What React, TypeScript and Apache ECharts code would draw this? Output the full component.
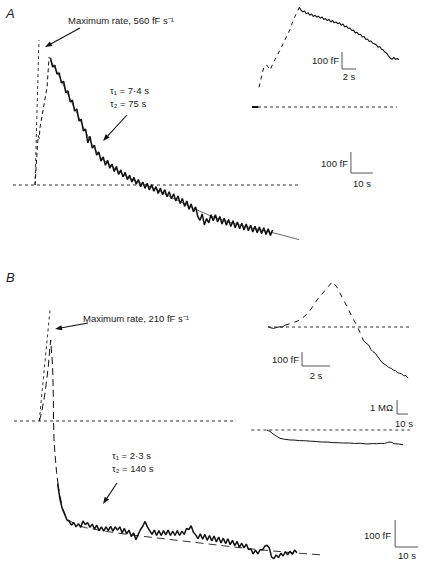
import React, { useEffect, useRef } from "react";
import * as echarts from "echarts";

// ---------- DATA (time in s, capacitance in fF, resistance in MΩ) ----------
// Panel A, main trace
const A_RISE = [[0, 0], [1.2, 200], [1.5, 235], [1.9, 222], [2.3, 276], [5.5, 467], [6.4, 610]];
const A_DECAY_T0 = 7;
const A_DECAY_DT = 1;
const A_DECAY = [
  606, 562, 570, 528, 534, 486, 494, 440, 448, 396, 404, 352, 362, 306, 312, 258, 266, 200, 232, 176,
  190, 142, 158, 114, 134, 94, 118, 80, 100, 64, 88, 50, 72, 38, 60, 26, 46, 14, 36, 4,
  26, -8, 14, -16, 8, -24, 2, -30, -8, -40, -14, -46, -22, -56, -32, -66, -42, -76, -52, -88,
  -64, -102, -76, -116, -90, -128, -104, -150, -168, -138, -190, -160, -180, -142, -170, -142, -176, -150, -186, -158,
  -192, -164, -198, -170, -204, -176, -208, -182, -214, -186, -218, -192, -224, -196, -228, -200, -232, -204, -236, -208,
  -240, -214,
];
const A_FIT = [
  [7, 595], [10, 540], [14, 452], [18, 365], [22, 275], [26, 192], [30, 128], [35, 88], [40, 50], [45, 22],
  [50, 2], [55, -20], [60, -48], [65, -74], [70, -100], [75, -125], [80, -148], [85, -166], [90, -182],
  [95, -196], [100, -208], [105, -220], [110, -232], [115, -246], [120, -260],
];
const A_TANGENT = [[0, 0], [1.8, 690]];
const A_BASE = [[-10, 0], [120.5, 0]];

// Panel A, inset
const AI_FLAT = [[0, 0], [0.9, 0]];
const AI_RISE = [[1.0, 116], [1.7, 237], [2.1, 247], [2.6, 218], [3.0, 257], [4.0, 335], [4.7, 394], [5.4, 453], [5.9, 512], [6.76, 586]];
const AI_DECAY_T0 = 6.75;
const AI_DECAY_DT = 0.25;
const AI_DECAY = [
  586, 570, 560, 565, 548, 555, 540, 548, 532, 540, 528, 535, 522, 530, 515, 520, 508, 516, 500, 510,
  495, 500, 490, 496, 480, 488, 470, 476, 462, 465, 450, 452, 436, 440, 425, 428, 412, 415, 398, 400,
  385, 388, 375, 372, 365, 352, 356, 340, 335, 322, 316, 300, 288, 280, 292, 280, 285, 278,
];
const AI_BASE = [[0, 0], [20.7, 0]];

// Panel B, main trace
const B_FAST = [[0, 0], [1, 30], [2.5, 104], [3.9, 201], [4.65, 275], [4.95, 300], [5.8, 201], [6.1, 90], [6.2, 0], [6.4, -70], [6.8, -119], [7.5, -190], [8.3, -243]];
const B_SLOW_T0 = 8;
const B_SLOW_DT = 1;
const B_SLOW = [
  -235, -290, -325, -345, -366, -372, -386, -376, -392, -380, -394, -370, -384, -376, -394, -382, -400, -386, -406, -392,
  -408, -392, -406, -390, -408, -392, -404, -392, -414, -398, -418, -404, -428, -414, -440, -420, -402, -390, -372, -392,
  -406, -420, -404, -424, -406, -424, -406, -422, -404, -424, -408, -424, -406, -424, -408, -420, -398, -402, -388, -412,
  -422, -436, -418, -438, -420, -442, -424, -444, -426, -448, -430, -452, -434, -454, -436, -458, -442, -462, -446, -468,
  -452, -470, -456, -476, -474, -492, -478, -492, -476, -478, -464, -460, -470, -504, -510, -496, -506, -490, -500, -484,
  -496, -482, -494, -478, -488,
];
const B_FIT = [
  [8, -230], [10, -320], [12, -362], [16, -385], [20, -395], [30, -410], [40, -422], [50, -432], [60, -442],
  [70, -452], [80, -462], [90, -472], [100, -480], [110, -488], [123, -496],
];
const B_TANGENT = [[0, 0], [4.65, 411]];
const B_BASE = [[-11, 0], [84.3, 0]];

// Panel B, capacitance inset
const BI_FLAT = [[0, 2], [0.2, -6], [0.4, -10], [0.6, -4], [0.86, 2], [1.0, -2], [1.2, 12]];
const BI_FAST = [[1.2, 12], [1.8, 31], [2.3, 50], [2.9, 102], [3.5, 193], [4.1, 264], [4.6, 324], [4.9, 288], [5.4, 193], [6.0, 74], [6.45, -10], [6.8, -93]];
const BI_SLOW = [
  [6.8, -93], [7.0, -115], [7.2, -130], [7.35, -160], [7.5, -176], [7.7, -192], [8.0, -235], [8.2, -259], [8.4, -270],
  [8.6, -287], [8.8, -296], [8.95, -307], [9.1, -312], [9.25, -326], [9.4, -331], [9.55, -335], [9.7, -350], [9.85, -346], [10.0, -366],
];
const BI_BASE = [[0, 0], [10.1, 0]];

// Panel B, resistance inset
const R_TRACE = [
  [0, 0], [3, -0.1], [6, -0.3], [9, -0.45], [12, -0.59], [16, -0.66], [21, -0.71], [25, -0.72], [30, -0.76],
  [35, -0.77], [40, -0.8], [45, -0.82], [50, -0.86], [55, -0.86], [60, -0.9], [65, -0.91], [70, -0.93], [75, -0.93],
  [80, -0.96], [85, -0.95], [91, -1.0], [96, -0.97], [100, -0.98], [104, -0.95], [107, -0.97], [110, -0.88], [113, -0.86],
  [116, -0.98], [120, -1.0], [124, -1.05],
];
const R_BASE = [[-14, 0], [130, 0]];

// Scale bars: [t, value, dt, dv]
const SCALE_BARS = [
  { grid: 0, t: 143.6, v: 57, dt: 10, dv: 100 },
  { grid: 1, t: 12.86, v: 223.5, dt: 2, dv: 100 },
  { grid: 2, t: 154.7, v: -466.7, dt: 10, dv: 100 },
  { grid: 3, t: 2.43, v: -278.6, dt: 2, dv: 100 },
  { grid: 4, t: 118.5, v: 1.14, dt: 10, dv: 1 },
];

// ---------- LAYOUT ----------
const LAYOUT = [
  { x0: 35, y0: 185, pxX: 2.2, pxY: 0.21, xmin: -10, xmax: 175, ymin: -300, ymax: 700 },
  { x0: 252, y0: 107, pxX: 7, pxY: 0.17, xmin: -1, xmax: 23, ymin: -100, ymax: 600 },
  { x0: 39.3, y0: 421, pxX: 2.3, pxY: 0.27, xmin: -11, xmax: 165, ymin: -520, ymax: 450 },
  { x0: 268, y0: 327, pxX: 14, pxY: 0.14, xmin: -1, xmax: 10.5, ymin: -400, ymax: 400 },
  { x0: 266.7, y0: 430, pxX: 1.1, pxY: 14, xmin: -14, xmax: 134, ymin: -1.5, ymax: 2.5 },
];

const FONT = "'Liberation Sans', Arial, Helvetica, sans-serif";

const seq = (t0: number, dt: number, arr: number[]) => arr.map((v, i) => [t0 + i * dt, v]);

function line(grid: number, data: number[][], color: string, width: number, type: any = "solid", z = 2) {
  return {
    type: "line",
    xAxisIndex: grid,
    yAxisIndex: grid,
    data,
    symbol: "none",
    showSymbol: false,
    silent: true,
    clip: false,
    z,
    lineStyle: { color, width, type },
  };
}

function text(str: string, x: number, y: number, align: string = "left", size = 9.5, italic = false) {
  return {
    type: "text",
    x,
    y,
    silent: true,
    style: {
      text: str,
      fill: "#1a1a1a",
      font: `${italic ? "italic " : ""}${size}px ${FONT}`,
      textAlign: align,
      textVerticalAlign: "middle",
    },
  };
}

function arrow(x1: number, y1: number, x2: number, y2: number) {
  const ang = Math.atan2(y2 - y1, x2 - x1);
  const len = 7;
  const hw = 2.6;
  const bx = x2 - len * Math.cos(ang);
  const by = y2 - len * Math.sin(ang);
  const px = -Math.sin(ang) * hw;
  const py = Math.cos(ang) * hw;
  return {
    type: "group",
    silent: true,
    children: [
      { type: "line", shape: { x1, y1, x2: bx, y2: by }, style: { stroke: "#111", lineWidth: 1.1 } },
      {
        type: "polygon",
        shape: { points: [[x2, y2], [bx + px, by + py], [bx - px, by - py]] },
        style: { fill: "#111" },
      },
    ],
  };
}

export default function App() {
  const ref = useRef<HTMLDivElement>(null);
  useEffect(() => {
    if (!ref.current) return;
    const chart = echarts.init(ref.current, undefined, { renderer: "svg" });

    const grids = LAYOUT.map((g) => ({
      left: g.x0 + g.xmin * g.pxX,
      width: (g.xmax - g.xmin) * g.pxX,
      top: g.y0 - g.ymax * g.pxY,
      height: (g.ymax - g.ymin) * g.pxY,
      containLabel: false,
      show: false,
    }));
    const xAxis = LAYOUT.map((g, i) => ({ type: "value", gridIndex: i, min: g.xmin, max: g.xmax, show: false }));
    const yAxis = LAYOUT.map((g, i) => ({ type: "value", gridIndex: i, min: g.ymin, max: g.ymax, show: false }));

    const baseCol = "#333";
    const series: any[] = [
      // Panel A main
      line(0, A_BASE, baseCol, 1, [3, 3], 1),
      line(0, A_TANGENT, baseCol, 1, [3, 3], 1),
      line(0, A_FIT, "#444", 0.8, "solid", 1),
      line(0, A_RISE, "#111", 1, [4, 3]),
      line(0, seq(A_DECAY_T0, A_DECAY_DT, A_DECAY), "#111", 1.5),
      // Panel A inset
      line(1, AI_BASE, baseCol, 1, [3, 3], 1),
      line(1, AI_FLAT, "#111", 2),
      line(1, AI_RISE, "#111", 1, [4, 4]),
      line(1, seq(AI_DECAY_T0, AI_DECAY_DT, AI_DECAY), "#111", 1.1),
      // Panel B main
      line(2, B_BASE, baseCol, 1, [3, 3], 1),
      line(2, B_TANGENT, baseCol, 1, [3, 3], 1),
      line(2, B_FIT, "#333", 1, [8, 5], 1),
      line(2, B_FAST, "#111", 1, [7, 4]),
      line(2, seq(B_SLOW_T0, B_SLOW_DT, B_SLOW), "#111", 1.5),
      // Panel B capacitance inset
      line(3, BI_BASE, baseCol, 1, [3, 3], 1),
      line(3, BI_FLAT, "#111", 1),
      line(3, BI_FAST, "#111", 1, [5, 5]),
      line(3, BI_SLOW, "#111", 1),
      // Panel B resistance inset
      line(4, R_BASE, baseCol, 1, [3, 3], 1),
      line(4, R_TRACE, "#111", 1),
    ];
    SCALE_BARS.forEach((s) => {
      series.push(
        line(s.grid, [[s.t, s.v + s.dv], [s.t, s.v], [s.t + s.dt, s.v]], "#555", 1)
      );
    });

    const graphic: any[] = [
      text("A", 6, 13, "left", 13, true),
      text("Maximum rate, 560 fF s⁻¹", 68, 20),
      arrow(80, 28, 45, 47),
      text("τ₁ = 7·4 s", 110, 90),
      text("τ₂ = 75 s", 110, 103),
      arrow(127, 115, 103, 141),
      text("100 fF", 339, 60, "right"),
      text("2 s", 349, 76, "center"),
      text("100 fF", 348, 163, "right"),
      text("10 s", 362, 183, "center"),
      text("B", 6, 277, "left", 13, true),
      text("Maximum rate, 210 fF s⁻¹", 83, 318),
      arrow(88, 323, 55, 329),
      text("τ₁ = 2·3 s", 112, 455),
      text("τ₂ = 140 s", 112, 468),
      arrow(117, 483, 103, 504),
      text("100 fF", 299, 359, "right"),
      text("2 s", 316, 375, "center"),
      text("1 MΩ", 393, 407, "right"),
      text("10 s", 404, 423, "center"),
      text("100 fF", 391, 535, "right"),
      text("10 s", 407, 555, "center"),
    ];

    chart.setOption({
      animation: false,
      backgroundColor: "#fff",
      grid: grids,
      xAxis,
      yAxis,
      series,
      graphic,
    });
    return () => chart.dispose();
  }, []);

  return (
    <div
      ref={ref}
      style={{ position: "fixed", left: 0, top: 0, width: 424, height: 565, background: "#fff" }}
    />
  );
}
